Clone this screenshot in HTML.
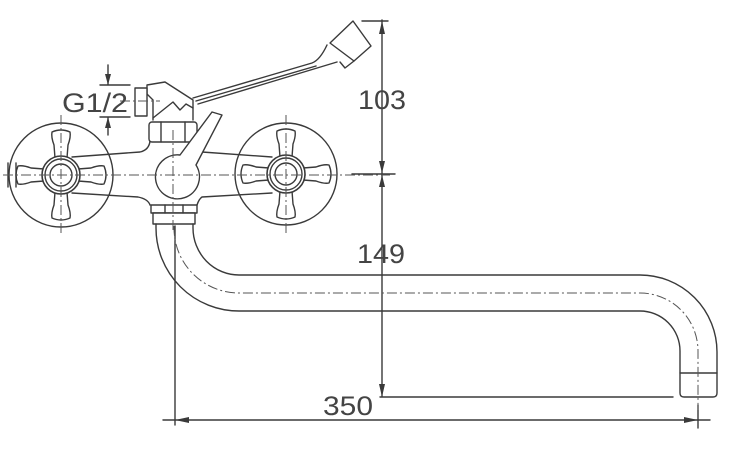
<!DOCTYPE html>
<html><head><meta charset="utf-8"><style>
html,body{margin:0;padding:0;background:#fff;}
svg{display:block;}
text{font-family:"Liberation Sans",sans-serif;fill:#444;}
</style></head><body>
<svg width="729" height="459" viewBox="0 0 729 459" xmlns="http://www.w3.org/2000/svg">
<defs>
<path id="arm" d="M-6,-17 L-7,-30 Q-10,-38 -9,-43 Q0,-47 9,-43 Q10,-38 7,-30 L6,-17" fill="#fff" stroke="#3a3a3a" stroke-width="1.4"/>
<g id="handle">
 <use href="#arm"/>
 <use href="#arm" transform="rotate(90)"/>
 <use href="#arm" transform="rotate(180)"/>
 <use href="#arm" transform="rotate(270)"/>
 <circle r="19" fill="#fff" stroke="#3a3a3a" stroke-width="1.6"/>
 <circle r="16" fill="none" stroke="#3a3a3a" stroke-width="1.4"/>
 <circle r="11" fill="none" stroke="#3a3a3a" stroke-width="1.4"/>
</g>
</defs>
<g fill="none" stroke="#3a3a3a" stroke-width="1.4" stroke-linecap="round" stroke-linejoin="round">
 <circle cx="61" cy="175" r="52"/>
 <circle cx="286" cy="174" r="51"/>
 <path d="M72,157 L140,152 Q149,150 150,141"/>
 <path d="M202,152 L272,157"/>
 <path d="M72,193 L138,197 Q148,199 150,205"/>
 <path d="M202,197 L272,193 M197,205 Q199,199 202,197"/>
 <rect x="149" y="122" width="48" height="20" rx="3" fill="#fff"/>
 <path d="M161,122 V142 M185,122 V142"/>
 <path d="M153,120 L153,100 L147,94 L147,85 L165,82 L193,100 L193,120"/>
 <path d="M153,118 L173,102 L180,110 L186,104 L193,108"/>
 <rect x="135" y="88" width="12" height="28" fill="#fff"/>
 <path d="M193,98 L312,63 Q320,60 327,45"/>
 <path d="M196,101 L316,66"/>
 <path d="M198,104 L337,62"/>
 <polygon points="330,43 353,21 371,46 354,61" fill="#fff"/>
 <path d="M340,62 L345,68 L354,61"/>
 <path d="M212,112 L222,115 L196,165 A22,22 0 1 1 180,155 Z" fill="#fff"/>
 <use href="#handle" x="61" y="175"/>
 <use href="#handle" x="286" y="174"/>
 <rect x="151" y="205" width="46" height="8" fill="#fff"/>
 <rect x="153" y="213" width="42" height="11" fill="#fff"/>
 <path d="M165,205 V213 M183,205 V213"/>
 <path d="M156,224 L156,228 A83,83 0 0 0 239,311 L640,311 A40,40 0 0 1 680,351 L680,393 Q680,397 684,397 L713,397 Q717,397 717,393 L717,352 A77,77 0 0 0 640,275 L239,275 A46,47 0 0 1 193,228 L193,224"/>
 <path d="M680,373 H717"/>
 <path d="M382,20 V397 M362,21 H388 M352,174 H395 M380,397 H673"/>
 <path d="M175,226 V425 M698,405 V428 M163,420 H710"/>
 <path d="M100,85 H130 M100,117 H130 M108,65 V85 M108,117 V135"/>
 <path d="M8,163 V187 M16,163 V187"/>
</g>
<g fill="#3a3a3a" stroke="none">
 <polygon points="382,21 379,34 385,34"/>
 <polygon points="382,173 379,161 385,161"/>
 <polygon points="382,175 379,187 385,187"/>
 <polygon points="382,397 379,384 385,384"/>
 <polygon points="175,420 189,417 189,423"/>
 <polygon points="698,420 684,417 684,423"/>
 <polygon points="108,85 105,74 111,74"/>
 <polygon points="108,117 105,128 111,128"/>
</g>
<g fill="none" stroke="#555" stroke-width="1" stroke-dasharray="10,3,2,3">
 <path d="M3,175 H390"/>
 <path d="M61,115 V235 M286,115 V235 M173,130 V230"/>
 <path d="M120,101 H160"/>
 <path d="M174,226 V228 A65,65 0 0 0 239,293 L640,293 A58,58 0 0 1 698,351 V410"/>
</g>
<text x="62" y="112" font-size="27" textLength="66" lengthAdjust="spacingAndGlyphs">G1/2</text>
<text x="358" y="109" font-size="27" textLength="48" lengthAdjust="spacingAndGlyphs">103</text>
<text x="357" y="263" font-size="27" textLength="48" lengthAdjust="spacingAndGlyphs">149</text>
<text x="323" y="415" font-size="27" textLength="50" lengthAdjust="spacingAndGlyphs">350</text>
</svg>
</body></html>
